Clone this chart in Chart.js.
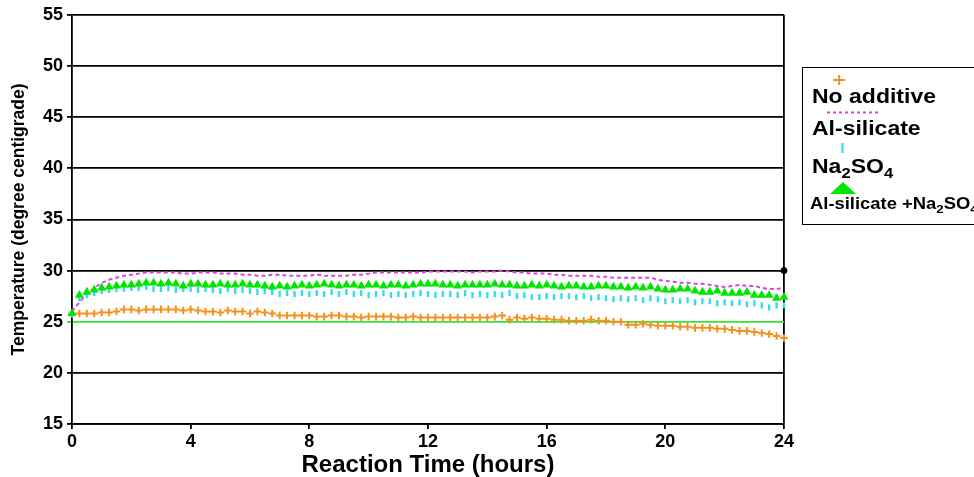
<!DOCTYPE html>
<html>
<head>
<meta charset="utf-8">
<title>Reaction temperature</title>
<script src="https://cdn.jsdelivr.net/npm/chart.js@4.4.1/dist/chart.umd.min.js"></script>
<style>
    body { margin: 0; background: #fff; font-family: 'Liberation Sans', Arial, sans-serif; }
    #wrap { position: relative; width: 974px; height: 477px; overflow: hidden; }
    #tempChart { position: absolute; left: 0; top: 0; }
    #legend {
        position: absolute; left: 802px; top: 67px; width: 210px; height: 158px;
        border: 1.5px solid #000; box-sizing: border-box;
    }
    #legend .txt {
        position: absolute; left: 9px; font-weight: bold; color: #000; white-space: nowrap;
        transform: scaleX(1.15); transform-origin: left center;
    }
    #legend sub { font-size: 0.72em; vertical-align: -0.35em; line-height: 0; }
    .mk { position: absolute; }
</style>
</head>
<body>
<div id="wrap">
    <canvas id="tempChart" width="974" height="477"></canvas>
    <div id="legend">
        <svg class="mk" style="left:30px;top:7px" width="12" height="10">
            <path d="M0 5 H12 M6 0 V10" stroke="#f5901e" stroke-width="1.8"/>
        </svg>
        <div class="txt" style="top:17px;font-size:20px">No additive</div>
        <svg class="mk" style="left:24px;top:43px" width="52" height="3">
            <line x1="0" y1="1.5" x2="52" y2="1.5" stroke="#e044e0" stroke-width="1.8" stroke-dasharray="3,3"/>
        </svg>
        <div class="txt" style="top:49px;font-size:20px">Al-silicate</div>
        <svg class="mk" style="left:38px;top:75px" width="3" height="10">
            <line x1="1.5" y1="0" x2="1.5" y2="10" stroke="#33dcea" stroke-width="2.2"/>
        </svg>
        <div class="txt" style="top:87px;font-size:20px">Na<sub>2</sub>SO<sub>4</sub></div>
        <svg class="mk" style="left:27px;top:114px" width="26" height="12">
            <polygon points="0,12 26,12 13,0" fill="#00e600"/>
        </svg>
        <div class="txt" style="top:127px;font-size:16px;left:7px">Al-silicate +Na<sub>2</sub>SO<sub>4</sub></div>
    </div>
</div>
<script>
// Sampling times (hours), one reading every 15 minutes
const hours = [
    0, 0.25, 0.5, 0.75, 1, 1.25, 1.5, 1.75, 2, 2.25, 2.5, 2.75,
    3, 3.25, 3.5, 3.75, 4, 4.25, 4.5, 4.75, 5, 5.25, 5.5, 5.75,
    6, 6.25, 6.5, 6.75, 7, 7.25, 7.5, 7.75, 8, 8.25, 8.5, 8.75,
    9, 9.25, 9.5, 9.75, 10, 10.25, 10.5, 10.75, 11, 11.25, 11.5, 11.75,
    12, 12.25, 12.5, 12.75, 13, 13.25, 13.5, 13.75, 14, 14.25, 14.5, 14.75,
    15, 15.25, 15.5, 15.75, 16, 16.25, 16.5, 16.75, 17, 17.25, 17.5, 17.75,
    18, 18.25, 18.5, 18.75, 19, 19.25, 19.5, 19.75, 20, 20.25, 20.5, 20.75,
    21, 21.25, 21.5, 21.75, 22, 22.25, 22.5, 22.75, 23, 23.25, 23.5, 23.75,
    24
];

// Temperatures (degree centigrade) for each run
const noAdditive = [
    25.8, 25.8, 25.8, 25.8, 25.9, 25.9, 26.0, 26.2, 26.2, 26.1, 26.2, 26.2,
    26.2, 26.2, 26.2, 26.1, 26.2, 26.1, 26.0, 26.0, 25.9, 26.1, 26.0, 26.0,
    25.8, 26.0, 25.9, 25.8, 25.6, 25.6, 25.6, 25.6, 25.6, 25.5, 25.5, 25.6,
    25.6, 25.5, 25.5, 25.4, 25.5, 25.5, 25.5, 25.5, 25.4, 25.4, 25.5, 25.4,
    25.4, 25.4, 25.4, 25.4, 25.4, 25.4, 25.4, 25.4, 25.4, 25.5, 25.6, 25.2,
    25.4, 25.3, 25.4, 25.3, 25.3, 25.2, 25.2, 25.1, 25.1, 25.1, 25.2, 25.1,
    25.1, 25.0, 25.0, 24.7, 24.7, 24.8, 24.7, 24.6, 24.6, 24.6, 24.5, 24.5,
    24.4, 24.4, 24.4, 24.3, 24.3, 24.2, 24.1, 24.1, 24.0, 23.9, 23.8, 23.6,
    23.4
];
const alSilicate = [
    26.0, 26.9, 27.7, 28.3, 28.8, 29.1, 29.3, 29.5, 29.6, 29.7, 29.8, 29.8,
    29.8, 29.8, 29.8, 29.7, 29.7, 29.8, 29.8, 29.8, 29.7, 29.7, 29.7, 29.6,
    29.6, 29.5, 29.5, 29.6, 29.6, 29.5, 29.5, 29.5, 29.5, 29.6, 29.5, 29.5,
    29.5, 29.5, 29.6, 29.6, 29.7, 29.8, 29.8, 29.8, 29.8, 29.8, 29.8, 29.8,
    29.9, 29.9, 29.9, 29.9, 29.9, 29.9, 29.8, 29.9, 29.9, 29.9, 30.0, 29.9,
    29.8, 29.8, 29.7, 29.7, 29.7, 29.6, 29.6, 29.5, 29.5, 29.5, 29.5, 29.4,
    29.4, 29.3, 29.3, 29.3, 29.3, 29.3, 29.3, 29.1, 29.0, 28.9, 28.8, 28.8,
    28.7, 28.7, 28.6, 28.5, 28.4, 28.5, 28.6, 28.5, 28.5, 28.3, 28.2, 28.2,
    28.3
];
const naSulfate = [
    25.7, 27.3, 27.6, 27.8, 28.0, 28.1, 28.2, 28.2, 28.3, 28.3, 28.4, 28.2,
    28.2, 28.3, 28.1, 28.2, 28.2, 28.1, 28.2, 28.1, 28.0, 28.2, 28.0, 28.1,
    28.0, 27.9, 28.0, 27.9, 27.7, 27.8, 27.7, 27.8, 27.7, 27.8, 27.7, 27.9,
    27.7, 27.9, 27.7, 27.8, 27.6, 27.7, 27.8, 27.6, 27.7, 27.6, 27.7, 27.8,
    27.7, 27.6, 27.7, 27.7, 27.6, 27.8, 27.6, 27.7, 27.6, 27.7, 27.6, 27.8,
    27.5, 27.6, 27.4, 27.4, 27.5, 27.4, 27.5, 27.5, 27.4, 27.5, 27.3, 27.4,
    27.3, 27.2, 27.3, 27.2, 27.3, 27.1, 27.3, 27.2, 27.0, 27.1, 27.0, 27.1,
    26.9, 27.0, 27.0, 26.8, 26.9, 26.8, 26.9, 26.7, 26.8, 26.6, 26.4, 26.6,
    26.6
];
const alSilicateNaSulfate = [
    25.8, 27.6, 27.9, 28.1, 28.3, 28.4, 28.5, 28.6, 28.6, 28.7, 28.8, 28.8,
    28.7, 28.8, 28.7, 28.5, 28.7, 28.7, 28.6, 28.6, 28.7, 28.6, 28.6, 28.7,
    28.6, 28.6, 28.5, 28.4, 28.5, 28.4, 28.5, 28.6, 28.5, 28.6, 28.7, 28.6,
    28.5, 28.6, 28.6, 28.5, 28.6, 28.6, 28.5, 28.6, 28.6, 28.5, 28.6, 28.7,
    28.7, 28.7, 28.6, 28.6, 28.5, 28.6, 28.6, 28.6, 28.6, 28.7, 28.6, 28.6,
    28.5, 28.5, 28.6, 28.5, 28.6, 28.5, 28.4, 28.5, 28.5, 28.4, 28.4, 28.5,
    28.5, 28.4, 28.4, 28.3, 28.4, 28.3, 28.4, 28.2, 28.1, 28.1, 28.2, 28.2,
    28.0, 27.9, 27.9, 28.0, 27.8, 27.8, 27.8, 27.9, 27.6, 27.6, 27.6, 27.3,
    27.4
];

// Single reading marked at the end of the run
const endMarkHours = [24];
const endMarkTemp = [30];

// Axis ticks
const xTicks = [0, 4, 8, 12, 16, 20, 24];
const yTicks = [15, 20, 25, 30, 35, 40, 45, 50, 55];
const baselineTemp = 25;

const FONT = "'Liberation Sans', Arial, sans-serif";

function toPoints(xs, ys) {
    return xs.map((x, i) => ({ x, y: ys[i] }));
}

function renderTempChart() {
    const ctx = document.getElementById('tempChart').getContext('2d');

    new Chart(ctx, {
        type: 'line',
        data: {
            datasets: [
                {
                    label: 'end',
                    data: toPoints(endMarkHours, endMarkTemp),
                    showLine: false,
                    pointStyle: 'circle',
                    pointRadius: 3,
                    backgroundColor: '#000',
                    borderColor: '#000',
                    order: 0,
                    clip: false
                },
                {
                    label: 'Al-silicate +Na2SO4',
                    data: toPoints(hours, alSilicateNaSulfate),
                    showLine: false,
                    pointStyle: 'triangle',
                    pointRadius: 5.2,
                    backgroundColor: '#00e600',
                    borderColor: '#00e600',
                    borderWidth: 0,
                    order: 1,
                    clip: false
                },
                {
                    label: 'Na2SO4',
                    data: toPoints(hours, naSulfate),
                    showLine: false,
                    pointStyle: 'line',
                    pointRotation: 90,
                    pointRadius: 3,
                    borderColor: '#33dcea',
                    pointBorderWidth: 2.4,
                    order: 2,
                    clip: false
                },
                {
                    label: 'Al-silicate',
                    data: toPoints(hours, alSilicate),
                    borderColor: '#e044e0',
                    borderWidth: 2,
                    borderDash: [4, 3],
                    pointRadius: 0,
                    tension: 0,
                    order: 3,
                    clip: false
                },
                {
                    label: 'No additive',
                    data: toPoints(hours, noAdditive),
                    showLine: false,
                    pointStyle: 'cross',
                    pointRadius: 3.8,
                    borderColor: '#f5901e',
                    pointBorderWidth: 2,
                    order: 4,
                    clip: false
                }
            ]
        },
        options: {
            responsive: false,
            animation: false,
            devicePixelRatio: 1,
            layout: { padding: { top: 13, right: 190, left: 0, bottom: 0 } },
            plugins: {
                legend: { display: false },
                tooltip: { enabled: false }
            },
            scales: {
                x: {
                    type: 'linear',
                    min: 0,
                    max: 24,
                    afterFit: scale => { scale.height = 53; },
                    afterBuildTicks: scale => { scale.ticks = xTicks.map(v => ({ value: v })); },
                    ticks: {
                        color: '#000',
                        padding: 2,
                        font: { family: FONT, size: 18, weight: 'bold' }
                    },
                    grid: {
                        // only the right-hand frame line is drawn inside the plot
                        color: c => (c.tick && c.tick.value === 24 ? '#000' : 'rgba(0,0,0,0)'),
                        tickColor: '#000',
                        tickLength: 5,
                        lineWidth: 1.8
                    },
                    border: { color: '#000', width: 1.8 },
                    title: {
                        display: true,
                        text: 'Reaction Time (hours)',
                        color: '#000',
                        padding: { top: 0, bottom: 0 },
                        font: { family: FONT, size: 24, weight: 'bold', lineHeight: 1 }
                    }
                },
                y: {
                    min: 15,
                    max: 55,
                    afterFit: scale => { scale.width = 72; },
                    afterBuildTicks: scale => { scale.ticks = yTicks.map(v => ({ value: v })); },
                    ticks: {
                        color: '#000',
                        padding: 4,
                        font: { family: FONT, size: 18, weight: 'bold' }
                    },
                    grid: {
                        color: c => (c.tick && c.tick.value === baselineTemp ? '#33e633' : '#000'),
                        tickColor: c => (c.tick && c.tick.value === baselineTemp ? '#33e633' : '#000'),
                        tickLength: 5,
                        lineWidth: 1.8
                    },
                    border: { color: '#000', width: 1.8 },
                    title: {
                        display: true,
                        text: 'Temperature (degree centigrade)',
                        color: '#000',
                        padding: { top: 9, bottom: 0 },
                        font: { family: FONT, size: 17.5, weight: 'bold' }
                    }
                }
            }
        }
    });
}

document.addEventListener('DOMContentLoaded', renderTempChart);
</script>
</body>
</html>
